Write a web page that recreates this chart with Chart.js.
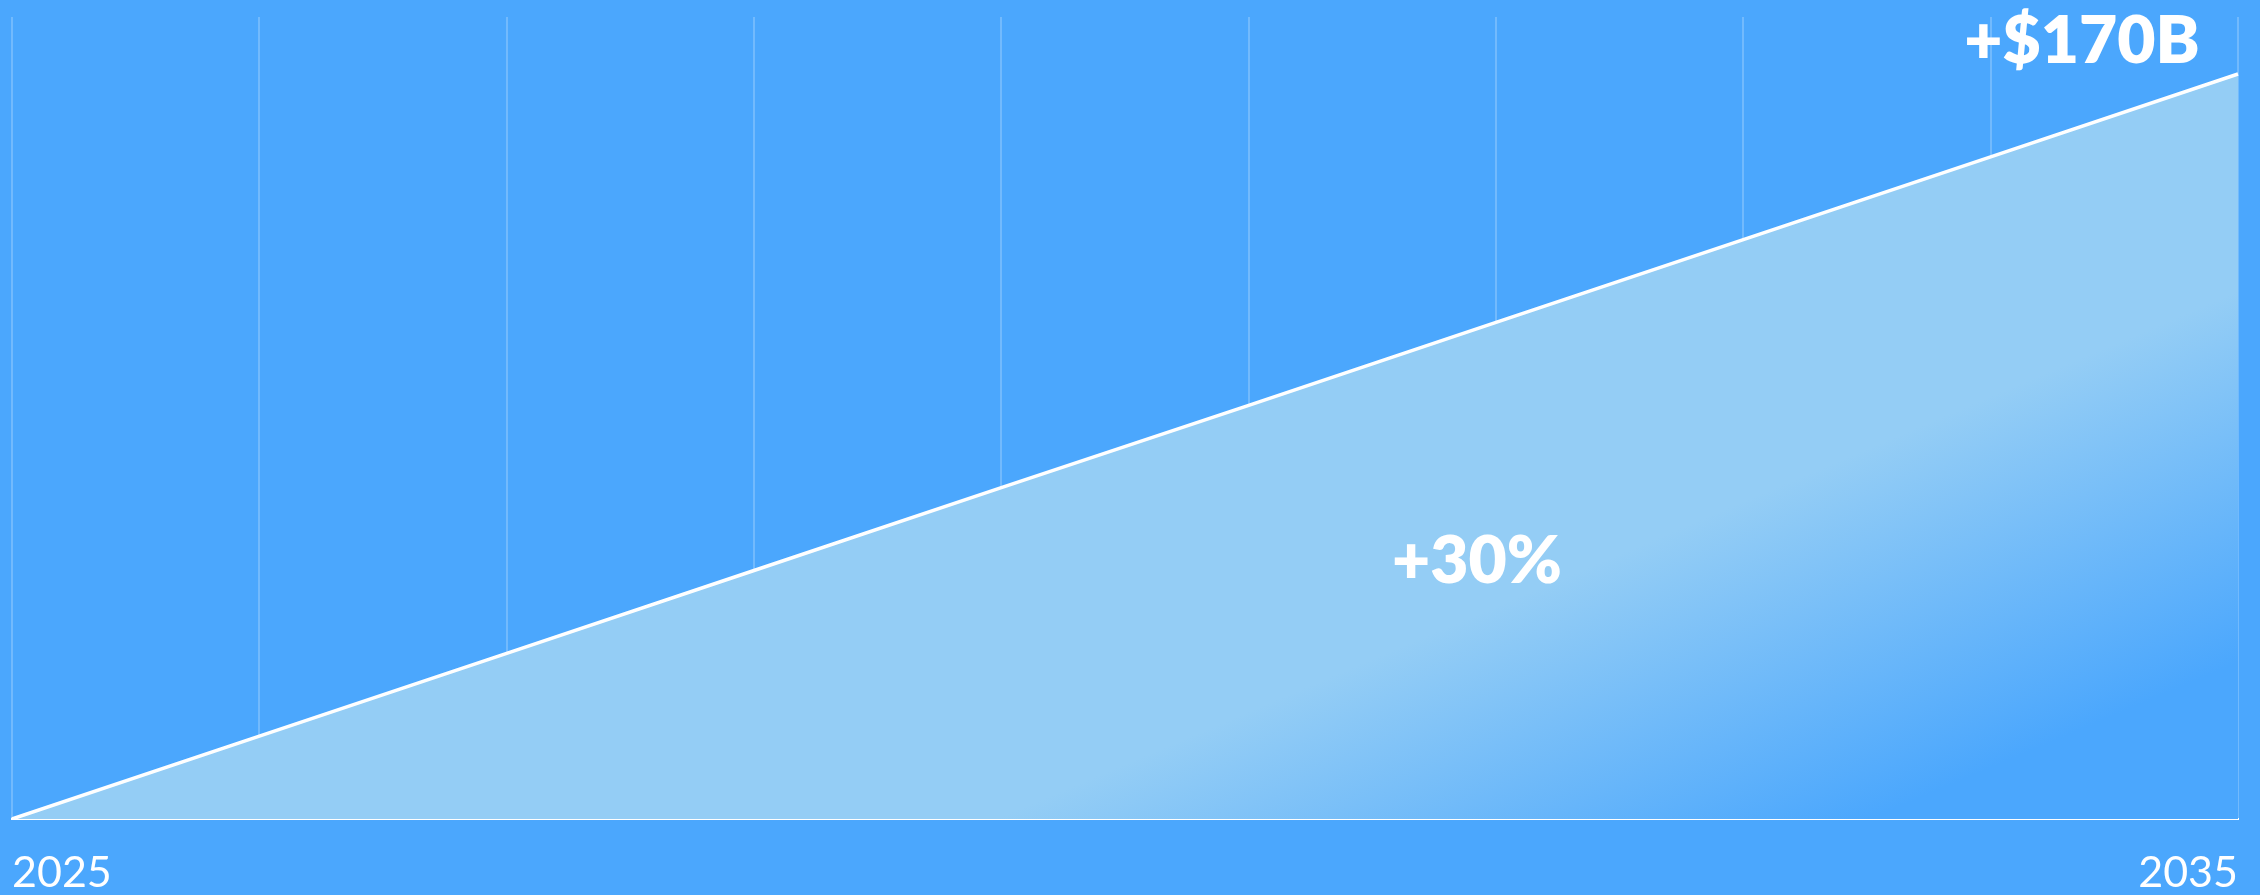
<!DOCTYPE html>
<html>
<head>
<meta charset="utf-8">
<script src="https://cdn.jsdelivr.net/npm/chart.js@4.4.1/dist/chart.umd.min.js"></script>
<style>
    html, body { margin: 0; padding: 0; background: #4BA7FD; }
    #wrap { width: 2260px; height: 895px; }
</style>
</head>
<body>
<div id="wrap"><canvas id="growthChart"></canvas></div>
<script>
// x categories, only first and last are labelled
const years = ['2025', '', '', '', '', '', '', '', '', '2035'];
// market growth in $B at each gridline
const growth = [0, 18.9, 37.8, 56.7, 75.6, 94.4, 113.3, 132.2, 151.1, 170];
const yRange = [0, 183];

const totalLabel = '+$170B';
const rateLabel = '+30%';

const bgBlue = '#4BA7FD';
const fillBlue = '#94CDF5';

// text labels drawn on top of the area
const labelPlugin = {
    id: 'labels',
    afterDatasetsDraw(chart) {
        const ctx = chart.ctx;
        ctx.save();
        ctx.fillStyle = '#ffffff';
        ctx.font = '800 66px Lato';
        ctx.textAlign = 'center';
        ctx.textBaseline = 'alphabetic';
        ctx.fillText(totalLabel, 2082, 63);
        ctx.fillText(rateLabel, 1477, 583);
        ctx.restore();
    }
};

const ctx = document.getElementById('growthChart').getContext('2d');
new Chart(ctx, {
    type: 'line',
    data: {
        labels: years,
        datasets: [{
            data: growth,
            borderColor: '#ffffff',
            borderWidth: 3.5,
            pointRadius: 0,
            tension: 0,
            fill: 'origin',
            backgroundColor: (c) => {
                const a = c.chart.chartArea;
                if (!a) return fillBlue;
                const w = a.right - a.left;
                const h = a.bottom - a.top;
                // fades out toward the lower right corner
                const g = c.chart.ctx.createLinearGradient(
                    a.left + 0.722 * w, a.top + 0.67 * h,
                    a.left + 0.782 * w, a.top + 1.062 * h);
                g.addColorStop(0, fillBlue);
                g.addColorStop(1, bgBlue);
                return g;
            }
        }]
    },
    options: {
        responsive: true,
        maintainAspectRatio: false,
        animation: false,
        layout: {
            padding: { left: 12, right: 22, top: 17, bottom: 0 }
        },
        plugins: {
            legend: { display: false },
            tooltip: { enabled: false }
        },
        scales: {
            x: {
                z: 1,
                grid: {
                    color: 'rgba(255,255,255,0.22)',
                    lineWidth: 2,
                    drawTicks: false
                },
                border: {
                    color: '#ffffff',
                    width: 2
                },
                ticks: {
                    color: '#ffffff',
                    font: { family: 'Lato', size: 43 },
                    align: 'inner',
                    maxRotation: 0,
                    autoSkip: false,
                    padding: 28
                },
                afterFit(scale) {
                    scale.height = 76;
                    scale.paddingLeft = 0;
                    scale.paddingRight = 0;
                }
            },
            y: {
                display: false,
                min: yRange[0],
                max: yRange[1]
            }
        }
    },
    plugins: [labelPlugin]
});
</script>
</body>
</html>
